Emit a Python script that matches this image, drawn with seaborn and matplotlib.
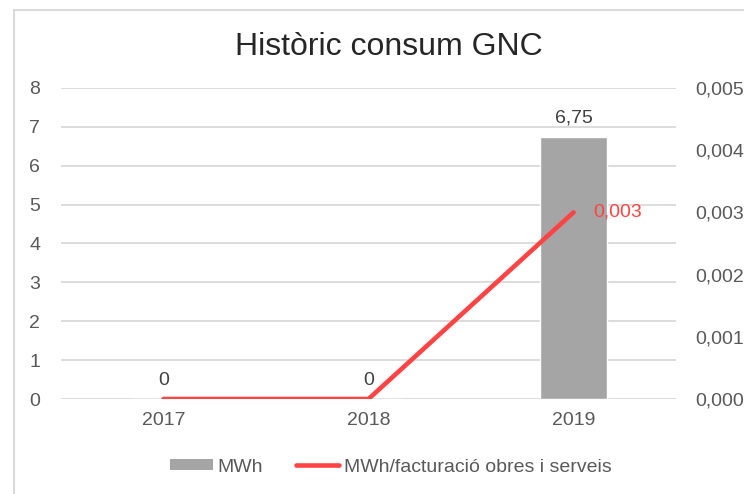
import matplotlib
matplotlib.use("Agg")
import matplotlib.pyplot as plt
import seaborn as sns
import pandas as pd
from matplotlib.patches import Rectangle
from matplotlib.lines import Line2D
from matplotlib.patches import Patch
from matplotlib.ticker import FuncFormatter, MultipleLocator

years = ["2017", "2018", "2019"]
mwh = [0, 0, 6.75]
mwh_per_fact = [0.0, 0.0, 0.003]
bar_labels = ["0", "0", "6,75"]
line_label = "0,003"
title = "Històric consum GNC"
legend_labels = ["MWh", "MWh/facturació obres i serveis"]

sns.set_theme(style="white")
plt.rcParams["font.family"] = ["Liberation Sans", "DejaVu Sans"]

BAR = "#a5a5a5"
RED = "#ff4343"
TXT = "#595959"
GRID = "#d9d9d9"
FS = 14

fig = plt.figure(figsize=(7.44, 4.94), dpi=100)
ax = fig.add_axes([61/744, 1-399/494, 615/744, 311/494])

df = pd.DataFrame({"year": years, "mwh": mwh, "ratio": mwh_per_fact})
sns.barplot(data=df, x="year", y="mwh", color=BAR, width=0.33, ax=ax,
            saturation=1, zorder=2)
ax.set_ylim(0, 8)
ax.set_xlim(-0.5, 2.5)
ax.yaxis.set_major_locator(MultipleLocator(1))
ax.grid(axis="y", color=GRID, linewidth=1.3, zorder=0)
ax.set_axisbelow(True)
for s in ax.spines.values():
    s.set_visible(False)
ax.set_xlabel("")
ax.set_ylabel("")
ax.tick_params(axis="both", length=0, labelsize=FS, labelcolor=TXT)
ax.tick_params(axis="y", pad=15)
ax.tick_params(axis="x", pad=9)

for i, (v, lab) in enumerate(zip(mwh, bar_labels)):
    ax.annotate(lab, (i, v), xytext=(0, 7), textcoords="offset points",
                ha="center", va="bottom", fontsize=FS, color="#404040")

ax2 = ax.twinx()
sns.lineplot(x=list(range(len(years))), y=mwh_per_fact, color=RED, linewidth=3.3,
             ax=ax2, zorder=3, solid_capstyle="round")
ax2.set_ylim(0, 0.005)
ax2.yaxis.set_major_locator(MultipleLocator(0.001))
ax2.yaxis.set_major_formatter(FuncFormatter(lambda v, p: f"{v:.3f}".replace(".", ",")))
for s in ax2.spines.values():
    s.set_visible(False)
ax2.tick_params(axis="y", length=0, labelsize=FS, labelcolor=TXT, pad=14)
ax2.set_ylabel("")
ax2.annotate(line_label, (2, mwh_per_fact[2]), xytext=(14, 0), textcoords="offset points",
             ha="left", va="center", fontsize=FS, color=RED)

fig.text(389/744, 1-47/494, title, ha="center", va="center", fontsize=23, color="#262626")

handles = [Patch(facecolor=BAR, edgecolor="none"),
           Line2D([0], [0], color=RED, linewidth=3.3, solid_capstyle="round")]
fig.legend(handles, legend_labels, loc="center", bbox_to_anchor=(391/744, 1-467/494),
           ncol=2, frameon=False, fontsize=FS, labelcolor=TXT, handlelength=2.2,
           handleheight=0.55, columnspacing=1.7, handletextpad=0.25)

fig.patches.append(Rectangle((13.5/744, -0.1), 1.0, 1 - 10.5/494 + 0.1,
                             transform=fig.transFigure, fill=False,
                             edgecolor=GRID, linewidth=1.5))

fig.savefig("out.png", dpi=100)
